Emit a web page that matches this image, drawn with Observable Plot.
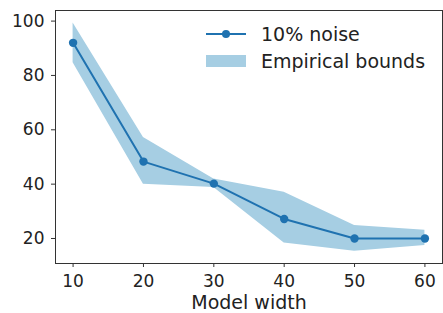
<!DOCTYPE html>
<html>
<head>
<meta charset="utf-8">
<script src="https://cdn.jsdelivr.net/npm/d3@7"></script>
<script src="https://cdn.jsdelivr.net/npm/@observablehq/plot@0.6"></script>
<style>
  html, body { margin: 0; padding: 0; background: #fff; }
  #wrap { position: relative; width: 443px; height: 313px; overflow: hidden; font-family: "DejaVu Sans", sans-serif; }
  #legend { position: absolute; left: 206px; top: 20.5px; font-size: 19px; color: #222; }
  .row { display: flex; align-items: center; height: 27px; }
  .row svg { margin-right: 15px; display: block; }
</style>
</head>
<body>
<div id="wrap">
  <div id="chart"></div>
  <div id="legend"></div>
</div>
<script>
const widths = [10, 20, 30, 40, 50, 60];
const noise10 = [92, 48.3, 40.2, 27.2, 20, 20];
const upper = [99.3, 57.2, 41.9, 37, 24.8, 23];
const lower = [84.7, 40, 38.8, 18.3, 15.3, 17.4];
const xTicks = [10, 20, 30, 40, 50, 60];
const yTicks = [20, 40, 60, 80, 100];
const seriesLabel = "10% noise";
const bandLabel = "Empirical bounds";
const xLabel = "Model width";

const lineColor = "#1f72b0";
const bandColor = "#a6cee3";

const data = widths.map((w, i) => ({w, v: noise10[i], lo: lower[i], hi: upper[i]}));

const chart = Plot.plot({
  width: 443,
  height: 313,
  marginLeft: 55,
  marginRight: 1,
  marginTop: 10,
  marginBottom: 50,
  style: {fontFamily: "DejaVu Sans, sans-serif", fontSize: "17px", color: "#222", background: "#fff"},
  x: {domain: [7.5, 62.5]},
  y: {domain: [10.8, 103.9]},
  marks: [
    Plot.areaY(data, {x: "w", y1: "lo", y2: "hi", fill: bandColor, fillOpacity: 1}),
    Plot.line(data, {x: "w", y: "v", stroke: lineColor, strokeWidth: 2}),
    Plot.dot(data, {x: "w", y: "v", r: 4.2, fill: lineColor, stroke: "none"}),
    Plot.frame({stroke: "#333", strokeWidth: 1}),
    Plot.axisX({ticks: xTicks, tickSize: 4, tickPadding: 7.5, fontSize: 17, stroke: "#333", label: null}),
    Plot.axisX({ticks: [], fontSize: 19, label: xLabel, labelAnchor: "center", labelArrow: "none", labelOffset: 45}),
    Plot.axisY({ticks: yTicks, tickSize: 4, tickPadding: 7, fontSize: 17, stroke: "#333", label: null})
  ]
});
document.getElementById("chart").appendChild(chart);

const legend = document.getElementById("legend");
legend.innerHTML = `
  <div class="row"><svg width="40" height="12"><line x1="0" y1="6" x2="40" y2="6" stroke="${lineColor}" stroke-width="2"/><circle cx="20" cy="6" r="4" fill="${lineColor}"/></svg><span>${seriesLabel}</span></div>
  <div class="row"><svg width="40" height="12"><rect x="0" y="0" width="40" height="12" fill="${bandColor}"/></svg><span>${bandLabel}</span></div>`;
</script>
</body>
</html>
